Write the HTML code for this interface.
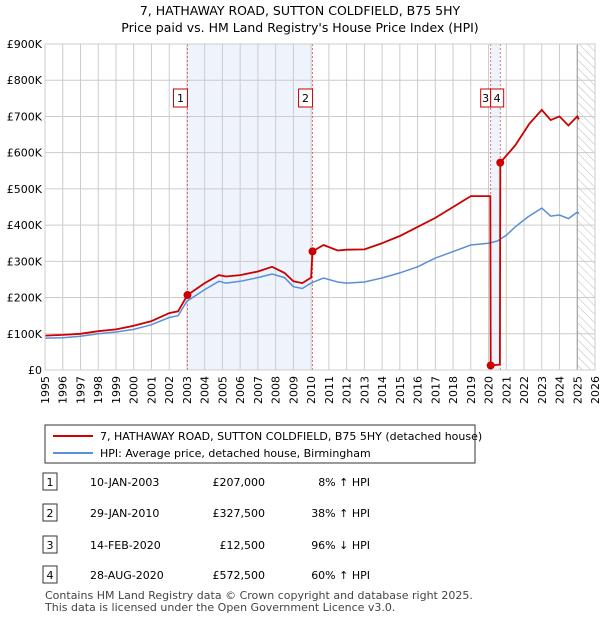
<!DOCTYPE html>
<html><head><meta charset="utf-8"><style>
body{margin:0;background:#fff;font-family:"Liberation Sans","DejaVu Sans",sans-serif;}
svg text{font-family:"DejaVu Sans","Liberation Sans",sans-serif;}
</style></head><body>
<svg id="c" width="600" height="620" xmlns="http://www.w3.org/2000/svg">
<defs><pattern id="hatch" width="6" height="6" patternUnits="userSpaceOnUse" patternTransform="rotate(-45)"><line x1="0" y1="0" x2="0" y2="6" stroke="#bbb" stroke-width="1"/></pattern></defs>
<text x="300" y="15" text-anchor="middle" font-size="12.5">7, HATHAWAY ROAD, SUTTON COLDFIELD, B75 5HY</text>
<text x="300" y="32" text-anchor="middle" font-size="12.5">Price paid vs. HM Land Registry's House Price Index (HPI)</text>
<g id="plot"></g>
<g>
<rect x="45" y="425" width="430" height="38" fill="#fff" stroke="#333" stroke-width="1"/>
<line x1="53" y1="436" x2="93" y2="436" stroke="#cc0000" stroke-width="2"/>
<text x="100" y="440" font-size="11">7, HATHAWAY ROAD, SUTTON COLDFIELD, B75 5HY (detached house)</text>
<line x1="53" y1="453" x2="93" y2="453" stroke="#5b8fd6" stroke-width="2"/>
<text x="100" y="457" font-size="11">HPI: Average price, detached house, Birmingham</text>
</g>
<g id="table" font-size="11"></g>
<text x="45" y="599" font-size="11" fill="#444">Contains HM Land Registry data © Crown copyright and database right 2025.</text>
<text x="45" y="611" font-size="11" fill="#444">This data is licensed under the Open Government Licence v3.0.</text>
</svg>
<script>
const hpiYears=[1995,1996,1997,1998,1999,2000,2001,2002,2002.5,2003,2004,2004.8,2005.2,2006,2007,2007.8,2008.5,2009,2009.5,2010,2010.7,2011.5,2012,2013,2014,2015,2016,2017,2018,2019,2020,2020.5,2021,2021.5,2022.2,2023,2023.5,2024,2024.5,2025,2025.1];
const hpiValues=[88,89,93,100,105,112,125,145,150,190,222,245,240,245,255,265,255,230,225,240,254,243,240,243,254,268,285,309,327,345,350,356,372,395,422,447,425,428,418,436,432];
const priceYears=[1995,1996,1997,1998,1999,2000,2001,2002,2002.5,2003.03,2004,2004.8,2005.2,2006,2007,2007.8,2008.5,2009,2009.5,2010.0,2010.08,2010.7,2011.5,2012,2013,2014,2015,2016,2017,2018,2019,2020.1,2020.12,2020.64,2020.66,2021.5,2022.3,2023,2023.5,2024,2024.5,2025,2025.1];
const priceValues=[95,97,100,107,112,122,135,157,162,207,240,262,258,262,272,285,268,245,240,255,327.5,345,330,332,333,350,370,395,420,450,480,480,12.5,15,572.5,620,680,718,690,700,675,700,692];
const saleIds=["1","2","3","4"];
const saleYears=[2003.03,2010.08,2020.12,2020.66];
const saleValues=[207,327.5,12.5,572.5];
const saleDates=["10-JAN-2003","29-JAN-2010","14-FEB-2020","28-AUG-2020"];
const salePrices=["£207,000","£327,500","£12,500","£572,500"];
const saleHpi=["8% ↑ HPI","38% ↑ HPI","96% ↓ HPI","60% ↑ HPI"];
const yTicks=[0,100,200,300,400,500,600,700,800,900];
const yTickLabels=["£0","£100K","£200K","£300K","£400K","£500K","£600K","£700K","£800K","£900K"];
const xTicks=[1995,1996,1997,1998,1999,2000,2001,2002,2003,2004,2005,2006,2007,2008,2009,2010,2011,2012,2013,2014,2015,2016,2017,2018,2019,2020,2021,2022,2023,2024,2025,2026];

const NS="http://www.w3.org/2000/svg";
const X0=45,X1=595,Y0=370,Y1=44;
const xs=y=>X0+(y-1995)/(2026-1995)*(X1-X0);
const ys=v=>Y0-v/900*(Y0-Y1);
function mk(tag,attrs,parent,text){const e=document.createElementNS(NS,tag);for(const k in attrs)e.setAttribute(k,attrs[k]);if(text!==undefined)e.textContent=text;parent.appendChild(e);return e;}
const plot=document.getElementById('plot');
const sh1=mk('rect',{x:xs(saleYears[0]),y:Y1,width:xs(saleYears[1])-xs(saleYears[0]),height:Y0-Y1,fill:'#eef3fc'},plot);


const sh2=mk('rect',{x:xs(saleYears[2]),y:Y1,width:xs(saleYears[3])-xs(saleYears[2]),height:Y0-Y1,fill:'#eef3fc'},plot);


const ht=mk('rect',{x:xs(2025.0),y:Y1,width:X1-xs(2025.0),height:Y0-Y1,fill:'url(#hatch)'},plot);


xTicks.forEach(t=>{mk('line',{x1:xs(t),x2:xs(t),y1:Y1,y2:Y0,stroke:'#ccc','stroke-width':1},plot);
 const tx=mk('text',{x:0,y:0,'font-size':11,transform:`translate(${xs(t)+4},${Y0+6}) rotate(-90)`,'text-anchor':'end'},plot,String(t));
 
 });
yTicks.forEach((t,i)=>{mk('line',{x1:X0,x2:X1,y1:ys(t),y2:ys(t),stroke:'#ccc','stroke-width':1},plot);
 const tx=mk('text',{x:X0-3,y:ys(t)+4,'font-size':11,'text-anchor':'end'},plot,yTickLabels[i]);
 
 });
mk('line',{x1:xs(2025.0),x2:xs(2025.0),y1:Y1,y2:Y0,stroke:'#999','stroke-width':1},plot);
saleYears.forEach((y,i)=>{mk('line',{x1:xs(y),x2:xs(y),y1:Y1,y2:Y0,stroke:'#e05050','stroke-width':0.8,'stroke-dasharray':'2,2'},plot);
 let left,w;
 if(i===2){left=xs(y)-10;w=10;}
 else if(i===3){left=xs(saleYears[2]);w=13;}
 else {left=xs(y)-14;w=14;}
 const g=mk('g',{},plot);
 
 
 mk('rect',{x:left,y:89,width:w,height:18,fill:'#fff',stroke:'#cc0000','stroke-width':1},g);
 mk('text',{x:left+w/2,y:102,'font-size':11,'text-anchor':'middle'},g,saleIds[i]);});
const pts=(xa,va)=>xa.map((x,i)=>xs(x).toFixed(1)+','+ys(va[i]).toFixed(1)).join(' ');
const hl=mk('polyline',{points:pts(hpiYears,hpiValues),fill:'none',stroke:'#5b8fd6','stroke-width':1.5},plot);


const pl=mk('polyline',{points:pts(priceYears,priceValues),fill:'none',stroke:'#cc0000','stroke-width':1.8},plot);


saleYears.forEach((y,i)=>{const c=mk('circle',{cx:xs(y),cy:ys(saleValues[i]),r:4,fill:'#cc0000'},plot);
 
 });
mk('rect',{x:X0,y:Y1,width:X1-X0,height:Y0-Y1,fill:'none',stroke:'#ccc'},plot);
const tb=document.getElementById('table');
const rowY=[482,513,545,575];
saleIds.forEach((id,i)=>{const g=mk('g',{},tb);
 
 
 mk('rect',{x:43,y:rowY[i]-9,width:14,height:17,fill:'#fff',stroke:'#333'},g);
 mk('text',{x:50,y:rowY[i]+4,'text-anchor':'middle'},g,id);
 mk('text',{x:90,y:rowY[i]+4},g,saleDates[i]);
 mk('text',{x:265,y:rowY[i]+4,'text-anchor':'end'},g,salePrices[i]);
 mk('text',{x:370,y:rowY[i]+4,'text-anchor':'end'},g,saleHpi[i]);});
</script>
</body></html>
